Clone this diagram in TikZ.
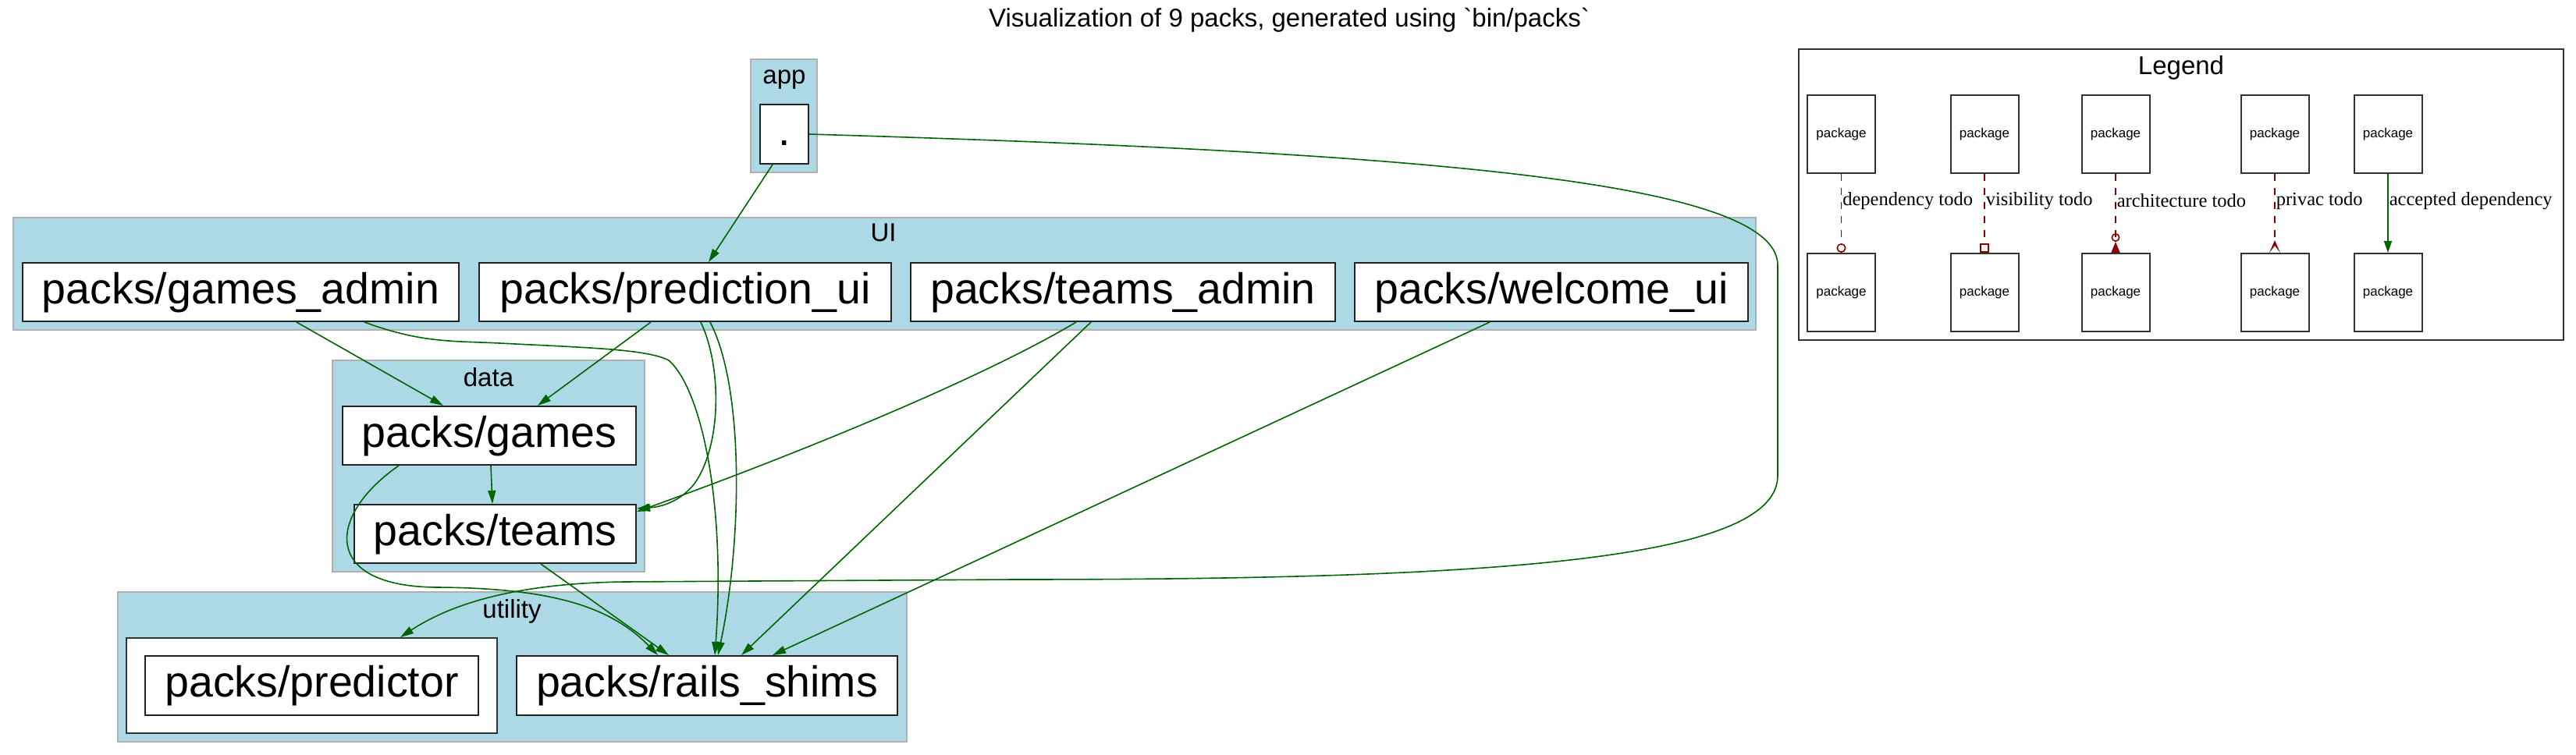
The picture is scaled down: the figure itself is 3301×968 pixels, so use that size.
\documentclass[tikz,border=0pt]{standalone}
\usepackage{fontspec}
\setmainfont{Liberation Sans}
\newfontfamily\lserif{Liberation Serif}
\usetikzlibrary{arrows.meta}
\newcommand\gravequote{{\XeTeXglyph\the\XeTeXcharglyph96\relax}}
\definecolor{dgreen}{HTML}{006400}
\definecolor{dred}{HTML}{8B0000}
\definecolor{lblue}{HTML}{ADD8E6}
\definecolor{cborder}{HTML}{B0B0B0}
\definecolor{nborder}{HTML}{222222}
\definecolor{lborder}{HTML}{333333}
\tikzset{
  cluster/.style={draw=cborder, fill=lblue, line width=2pt},
  clabel/.style={anchor=base, inner sep=0pt, font=\fontsize{33}{36}\selectfont},
  pk/.style={draw=nborder, fill=white, line width=2pt, inner sep=0pt,
    minimum height=75pt, text height=40pt, text depth=11pt,
    font=\fontsize{55.5}{60}\selectfont},
  outerbox/.style={draw=lborder, fill=white, line width=2pt, inner sep=0pt},
  dep/.style={draw=dgreen, line width=1.6pt, -{Triangle[length=17pt,width=10pt,fill=dgreen]}},
  lpk/.style={draw=lborder, fill=white, line width=2pt, inner sep=0pt,
    minimum width=87pt, minimum height=100pt, font=\fontsize{17}{20}\selectfont},
  todo/.style={draw=dred, line width=1.6pt, dash pattern=on 9pt off 9pt},
  okdep/.style={draw=dgreen, line width=1.6pt},
  elab/.style={anchor=west, inner sep=1pt, font=\lserif\fontsize{24.5}{28}\selectfont},
}
\begin{document}
\begin{tikzpicture}[x=1pt,y=-1pt]
\useasboundingbox (0,0) rectangle (3301,968);
\fill[white] (0,0) rectangle (3301,968);
% title
\node[anchor=base, inner sep=0pt, font=\fontsize{33}{36}\selectfont] (title) at (1652,35)
  {Visualization of 9 packs, generated using \gravequote bin/packs\gravequote};
% clusters
\draw[cluster] (962,76) rectangle (1047,221);
\node[clabel] (lapp) at (1005,108) {app};
\draw[cluster] (17,279) rectangle (2250,423);
\node[clabel] (lui) at (1132,310) {UI};
\draw[cluster] (426,462) rectangle (826,733);
\node[clabel] (ldata) at (626,495) {data};
\draw[cluster] (151,759) rectangle (1162,951);
\node[clabel] (lutil) at (656,792) {utility};
% nodes
\node[pk, minimum width=62pt, minimum height=76pt] (dot) at (1005,172) {.};
\node[pk, minimum width=559pt] (ga) at (308.5,374.5) {packs/games\_admin};
\node[pk, minimum width=528pt] (pui) at (878,374.5) {packs/prediction\_ui};
\node[pk, minimum width=544pt] (ta) at (1439,374.5) {packs/teams\_admin};
\node[pk, minimum width=504pt] (wui) at (1988,374.5) {packs/welcome\_ui};
\node[pk, minimum width=376pt] (games) at (627,558.5) {packs/games};
\node[pk, minimum width=361pt] (teams) at (634.5,684.5) {packs/teams};
\node[outerbox, minimum width=475pt, minimum height=122pt] (predc) at (399.5,879) {};
\node[pk, minimum width=427pt, minimum height=76pt] (pred) at (399.5,879) {packs/predictor};
\node[pk, minimum width=488pt, minimum height=76pt] (rails) at (906,879) {packs/rails\_shims};
% edges
\draw[dep] ([xshift=-15pt]dot.south) -- ([xshift=30pt]pui.north);
\draw[dep] (dot.east) .. controls (1800,195) and (2278,230) .. (2278,340)
  -- (2278,610) .. controls (2278,720) and (1900,743) .. (1300,743)
  -- (800,746) .. controls (640,748) and (565,783) .. ([xshift=113.5pt]predc.north);
\draw[dep] ([xshift=71.5pt]ga.south) -- ([xshift=-59pt]games.north);
\draw[dep] ([xshift=158.5pt]ga.south) .. controls (540,440) and (580,437) .. (640,440)
  .. controls (760,446) and (830,448) .. (857,462)
  .. controls (900,500) and (930,650) .. ([xshift=10pt]rails.north);
\draw[dep] ([xshift=-44pt]pui.south) -- ([xshift=62pt]games.north);
\draw[dep] ([xshift=20pt]pui.south) .. controls (925,470) and (925,570) .. (890,620)
  .. controls (870,645) and (845,650) .. ([yshift=-6pt]teams.north east);
\draw[dep] ([xshift=32pt]pui.south) .. controls (955,500) and (950,700) .. ([xshift=14pt]rails.north);
\draw[dep] ([xshift=-60pt]ta.south) .. controls (1250,490) and (1000,590) .. ([yshift=-10pt]teams.north east);
\draw[dep] ([xshift=-41pt]ta.south) -- ([xshift=44pt]rails.north);
\draw[dep] ([xshift=-79pt]wui.south) -- ([xshift=84pt]rails.north);
\draw[dep] ([xshift=2pt]games.south) -- ([xshift=-3.5pt]teams.north);
\draw[dep] ([xshift=-116pt]games.south) .. controls (420,660) and (410,752) .. (560,753)
  .. controls (700,754) and (780,775) .. ([xshift=-63pt]rails.north);
\draw[dep] ([xshift=58.5pt]teams.south) -- ([xshift=-49pt]rails.north);
% legend
\draw[draw=lborder, line width=2pt] (2305,63) rectangle (3285,436);
\node[clabel] (leg) at (2795,96) {Legend};
\node[lpk] (a1) at (2359.5,172) {package};
\node[lpk] (b1) at (2359.5,375) {package};
\node[lpk] (a2) at (2543,172) {package};
\node[lpk] (b2) at (2543,375) {package};
\node[lpk] (a3) at (2711,172) {package};
\node[lpk] (b3) at (2711,375) {package};
\node[lpk] (a4) at (2915,172) {package};
\node[lpk] (b4) at (2915,375) {package};
\node[lpk] (a5) at (3060,172) {package};
\node[lpk] (b5) at (3060,375) {package};
\draw[todo, -{Circle[open,length=12pt,width=12pt,line width=1.6pt]}] (a1.south) -- (b1.north)
  node[elab, pos=0.34, text=black] {dependency todo};
\draw[todo, -{Square[open,length=12pt,width=12pt,line width=1.6pt]}] (a2.south) -- (b2.north)
  node[elab, pos=0.34, text=black] {visibility todo};
\draw[todo, -{Circle[open,length=11pt,width=11pt,line width=1.6pt] Triangle[reversed,length=14pt,width=11pt,fill=dred]}] (a3.south) -- (b3.north)
  node[elab, pos=0.34, text=black] {architecture todo};
\draw[todo, -{Stealth[reversed,length=16pt,width=14pt,inset=9pt,fill=dred]}] (a4.south) -- (b4.north)
  node[elab, pos=0.34, text=black] {privac todo};
\draw[okdep, -{Triangle[length=15pt,width=10pt,fill=dgreen]}] (a5.south) -- (b5.north)
  node[elab, pos=0.34, text=black] {accepted dependency};
\end{tikzpicture}
\end{document}
